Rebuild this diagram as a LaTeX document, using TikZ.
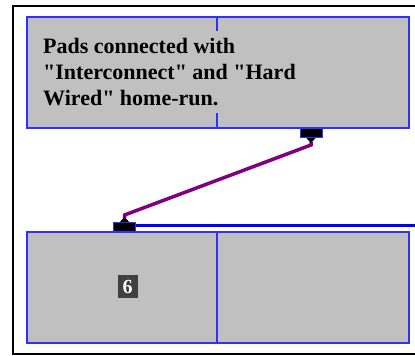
\documentclass[tikz,border=0pt]{standalone}
\usepackage{fontspec}
\setmainfont{Liberation Serif}[Ligatures=TeXOff]
\usetikzlibrary{arrows.meta}
\definecolor{padgray}{HTML}{C0C0C0}
\definecolor{boxblue}{HTML}{3030FF}
\definecolor{wirepurple}{HTML}{800080}
\definecolor{labelgray}{HTML}{404040}
\begin{document}
\begin{tikzpicture}[x=1pt,y=-1pt,
  region/.style={fill=padgray,draw=boxblue,line width=1.2pt},
  divider/.style={draw=boxblue,line width=1.2pt},
  padbox/.style={fill=black,draw=boxblue,line width=1pt,minimum width=22pt,minimum height=9pt,inner sep=0pt},
  conn/.style={draw=wirepurple,line width=3.5pt,
    {Triangle[reversed,black,length=5pt,width=9pt]}-{Triangle[reversed,black,length=5pt,width=9pt]}},
  bus/.style={draw=blue,line width=3pt},
  txt/.style={anchor=base west,inner sep=0pt,font=\fontsize{22}{26}\selectfont\bfseries},
  numlabel/.style={fill=labelgray,text=white,font=\fontsize{20}{22}\selectfont\bfseries,minimum width=20pt,minimum height=23pt,inner sep=0pt}]
\useasboundingbox (0,0) rectangle (415,356);
\fill[white] (0,0) rectangle (415,356);
% outer frame (open on the right)
\draw[line width=2pt] (415,6) -- (13,6) -- (13,354) -- (415,354);
% top region
\draw[region] (27,17) rectangle (409,128);
\draw[divider] (217,17) -- (217,31);
\draw[divider] (217,113) -- (217,128);
\node[txt] (t1) at (43,53) {Pads connected with};
\node[txt] (t2) at (43,79) {"Interconnect" and "Hard};
\node[txt] (t3) at (43,105) {Wired" home-run.};
% bottom region
\draw[region] (27,232) rectangle (409,343);
\draw[divider] (217,232) -- (217,343);
\node[numlabel] (six) at (127.5,286.5) {6};
% pads
\node[padbox] (padT) at (311,133) {};
\node[padbox] (padB) at (124.5,227) {};
\coordinate (edge) at (415,225);
\draw[bus] (padB.east |- edge) -- (edge);
% wire
\draw[conn] (padT.south) -- ++(0,7) -- ([yshift=7pt]padB.north) -- (padB.north);
\end{tikzpicture}
\end{document}
